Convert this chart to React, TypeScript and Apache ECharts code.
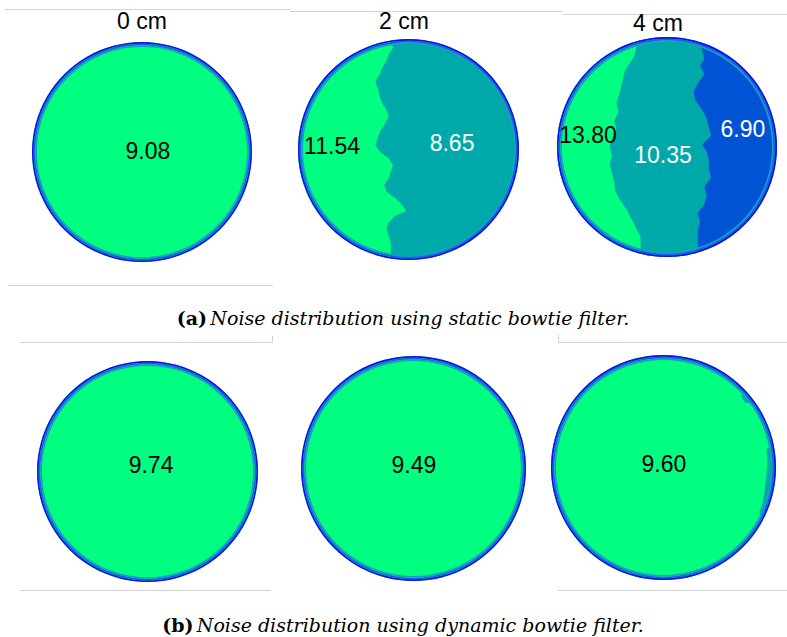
import React, { useEffect, useRef } from "react";
import * as echarts from "echarts";

// ---------- data ----------
const distanceLabels = ["0 cm", "2 cm", "4 cm"];
const staticNoise = [[9.08], [11.54, 8.65], [13.8, 10.35, 6.9]];
const dynamicNoise = [[9.74], [9.49], [9.6]];
const captionStatic = ["(a)", "Noise distribution using static bowtie filter."];
const captionDynamic = ["(b)", "Noise distribution using dynamic bowtie filter."];

// boundary profiles (row position from top of disc 0..1, boundary position from left 0..1)
const static2cmRows = [0.0, 0.04, 0.07, 0.1, 0.13, 0.16, 0.19, 0.22, 0.26, 0.29, 0.32, 0.35, 0.39, 0.42, 0.45, 0.48, 0.51, 0.54, 0.57, 0.6, 0.63, 0.66, 0.69, 0.72, 0.75, 0.78, 0.8, 0.83, 0.86, 0.89, 0.92, 0.95, 1.0];
const static2cmGreenEdge = [0.42, 0.43, 0.41, 0.4, 0.38, 0.37, 0.35, 0.36, 0.37, 0.38, 0.4, 0.41, 0.39, 0.37, 0.36, 0.35, 0.37, 0.41, 0.43, 0.42, 0.41, 0.39, 0.4, 0.44, 0.47, 0.49, 0.44, 0.41, 0.4, 0.41, 0.42, 0.42, 0.42];

const static4cmGreenRows = [0.0, 0.05, 0.09, 0.12, 0.15, 0.19, 0.23, 0.27, 0.3, 0.34, 0.38, 0.42, 0.46, 0.5, 0.54, 0.58, 0.62, 0.66, 0.7, 0.73, 0.76, 0.79, 0.83, 0.87, 0.91, 0.95, 1.0];
const static4cmGreenEdge = [0.37, 0.36, 0.35, 0.33, 0.31, 0.3, 0.29, 0.28, 0.27, 0.28, 0.26, 0.27, 0.25, 0.24, 0.25, 0.24, 0.25, 0.26, 0.265, 0.28, 0.3, 0.32, 0.34, 0.36, 0.38, 0.38, 0.38];
const static4cmTealRows = [0.0, 0.06, 0.1, 0.13, 0.17, 0.21, 0.25, 0.29, 0.33, 0.37, 0.41, 0.45, 0.49, 0.52, 0.56, 0.6, 0.64, 0.68, 0.72, 0.76, 0.8, 0.84, 0.88, 0.92, 1.0];
const static4cmTealEdge = [0.64, 0.66, 0.67, 0.65, 0.67, 0.64, 0.62, 0.63, 0.66, 0.68, 0.69, 0.7, 0.66, 0.68, 0.69, 0.69, 0.7, 0.67, 0.68, 0.67, 0.64, 0.65, 0.64, 0.64, 0.64];

const dynamic4cmRows = [0.0, 0.16, 0.18, 0.21, 0.24, 0.38, 0.42, 0.47, 0.53, 0.6, 0.66, 0.7, 0.73, 0.75, 1.0];
const dynamic4cmGreenEdge = [1, 1, 0.845, 0.86, 1, 1, 0.958, 0.962, 0.958, 0.95, 0.94, 0.925, 0.95, 1, 1];

// ---------- styles & layout ----------
const GREEN = "#00ff80";
const TEAL = "#00a9a9";
const BLUE = "#0053d5";
const SANS = '"Liberation Sans", Arial, sans-serif';
const SERIF = '"DejaVu Serif", "Liberation Serif", serif';
const RIM = [
  [1.0, 0.985, "#1010ee"],
  [0.985, 0.97, "#1d5fe4"],
  [0.97, 0.955, "#18a0c0"],
];

type Profile = { rows: number[]; edge: number[] };
type Panel = {
  box: { left: number; top: number; size: number };
  colors: string[];
  bounds: Profile[];
  values: number[];
  labelPos: number[][];
  labelColors: string[];
};

const panels: Panel[] = [
  { box: { left: 32, top: 42, size: 220 }, colors: [GREEN], bounds: [], values: staticNoise[0], labelPos: [[0.527, 0.495]], labelColors: ["#000"] },
  { box: { left: 298, top: 39, size: 221 }, colors: [GREEN, TEAL], bounds: [{ rows: static2cmRows, edge: static2cmGreenEdge }], values: staticNoise[1], labelPos: [[0.154, 0.484], [0.697, 0.471]], labelColors: ["#000", "#fff"] },
  { box: { left: 557, top: 37, size: 220 }, colors: [GREEN, TEAL, BLUE], bounds: [{ rows: static4cmGreenRows, edge: static4cmGreenEdge }, { rows: static4cmTealRows, edge: static4cmTealEdge }], values: staticNoise[2], labelPos: [[0.141, 0.445], [0.482, 0.536], [0.845, 0.418]], labelColors: ["#000", "#fff", "#fff"] },
  { box: { left: 37, top: 361, size: 221 }, colors: [GREEN], bounds: [], values: dynamicNoise[0], labelPos: [[0.516, 0.471]], labelColors: ["#000"] },
  { box: { left: 301, top: 356, size: 225 }, colors: [GREEN], bounds: [], values: dynamicNoise[1], labelPos: [[0.502, 0.484]], labelColors: ["#000"] },
  { box: { left: 551, top: 355, size: 225 }, colors: [GREEN, TEAL], bounds: [{ rows: dynamic4cmRows, edge: dynamic4cmGreenEdge }], values: dynamicNoise[2], labelPos: [[0.502, 0.484]], labelColors: ["#000"] },
];

function edgeAt(p: Profile, v: number) {
  const r = p.rows;
  if (v <= r[0]) return p.edge[0];
  for (let i = 1; i < r.length; i++) {
    if (v <= r[i]) {
      const t = (v - r[i - 1]) / (r[i] - r[i - 1]);
      return p.edge[i - 1] + t * (p.edge[i] - p.edge[i - 1]);
    }
  }
  return p.edge[p.edge.length - 1];
}

function regionPolygon(p: Profile, api: any) {
  const N = 300;
  const right: number[][] = [];
  const left: number[][] = [];
  for (let j = 0; j <= N; j++) {
    const v = j / N;
    const dy = v - 0.5;
    const w = Math.sqrt(Math.max(0, 0.25 - dy * dy));
    const lo = 0.5 - w;
    const hi = 0.5 + w;
    const b = Math.min(hi, Math.max(lo, edgeAt(p, v)));
    right.push(api.coord([b, v]));
    left.push(api.coord([lo, v]));
  }
  return right.concat(left.reverse());
}

function makeRender(panel: Panel) {
  return (_params: any, api: any) => {
    const c = api.coord([0.5, 0.5]);
    const R = api.coord([1, 0.5])[0] - c[0];
    const children: any[] = [];
    children.push({ type: "circle", shape: { cx: c[0], cy: c[1], r: R }, style: { fill: panel.colors[panel.colors.length - 1] } });
    for (let k = panel.colors.length - 2; k >= 0; k--) {
      children.push({ type: "polygon", shape: { points: regionPolygon(panel.bounds[k], api) }, style: { fill: panel.colors[k] } });
    }
    RIM.forEach((r) => {
      children.push({ type: "ring", shape: { cx: c[0], cy: c[1], r: R * (r[0] as number), r0: R * (r[1] as number) }, style: { fill: r[2] as string } });
    });
    panel.values.forEach((val, i) => {
      const pt = api.coord(panel.labelPos[i]);
      children.push({
        type: "text",
        x: pt[0],
        y: pt[1],
        style: { text: val.toFixed(2), fill: panel.labelColors[i], font: `23px ${SANS}`, align: "center", verticalAlign: "middle" },
      });
    });
    return { type: "group", children };
  };
}

const titlePos = [[142, 21], [404, 21], [658, 23]];

const lines = [
  [5, 9.5, 290, 9.5], [290, 11.5, 563, 11.5], [563, 14.5, 787, 14.5],
  [8, 285.5, 273, 285.5],
  [20, 342.5, 272, 342.5], [272.5, 336, 272.5, 343], [558, 342.5, 787, 342.5], [558.5, 335, 558.5, 343],
  [20, 590.5, 271, 590.5], [558, 590.5, 787, 590.5],
];

const option: any = {
  animation: false,
  backgroundColor: "#ffffff",
  grid: panels.map((p) => ({ left: p.box.left, top: p.box.top, width: p.box.size, height: p.box.size, show: false })),
  xAxis: panels.map((_, i) => ({ gridIndex: i, type: "value", min: 0, max: 1, show: false })),
  yAxis: panels.map((_, i) => ({ gridIndex: i, type: "value", min: 0, max: 1, inverse: true, show: false })),
  series: panels.map((p, i) => ({
    type: "custom",
    xAxisIndex: i,
    yAxisIndex: i,
    clip: false,
    silent: true,
    data: [[0.5, 0.5]],
    renderItem: makeRender(p),
  })),
  graphic: [
    ...lines.map((l) => ({ type: "line", shape: { x1: l[0], y1: l[1], x2: l[2], y2: l[3] }, style: { stroke: "#d2d2d2", lineWidth: 1 }, silent: true })),
    ...distanceLabels.map((t, i) => ({
      type: "text",
      x: titlePos[i][0],
      y: titlePos[i][1],
      style: { text: t, fill: "#000", font: `23px ${SANS}`, align: "center", verticalAlign: "middle" },
    })),
    ...[captionStatic, captionDynamic].map((cap, i) => ({
      type: "text",
      x: 403,
      y: i === 0 ? 318 : 625,
      style: {
        text: `{b|${cap[0]}} {i|${cap[1]}}`,
        align: "center",
        verticalAlign: "middle",
        fill: "#000",
        rich: {
          b: { fontFamily: SERIF, fontSize: 19, fontWeight: "bold", fill: "#000" },
          i: { fontFamily: SERIF, fontSize: 19, fontStyle: "italic", fill: "#000" },
        },
      },
    })),
  ],
};

export default function App() {
  const ref = useRef<HTMLDivElement>(null);
  useEffect(() => {
    const chart = echarts.init(ref.current!, null, { renderer: "svg" });
    chart.setOption(option);
    return () => chart.dispose();
  }, []);
  return <div ref={ref} style={{ position: "fixed", left: 0, top: 0, width: 787, height: 637, background: "#fff" }} />;
}
